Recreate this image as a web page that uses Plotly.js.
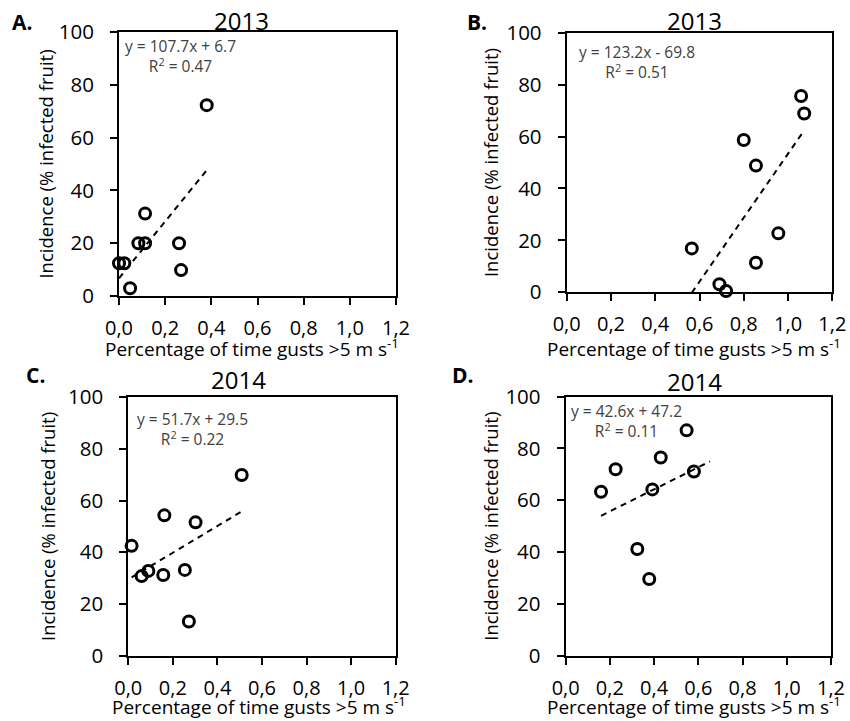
<!DOCTYPE html>
<html><head><meta charset="utf-8">
<script src="https://cdn.plot.ly/plotly-3.0.1.min.js"></script>
<style>html,body{margin:0;padding:0;background:#fff}</style>
</head><body><div id="chart" style="width:850px;height:721px"></div>
<script>
const panelLabels = ['A.', 'B.', 'C.', 'D.'];
const panelYears = ['2013', '2013', '2014', '2014'];
const xA = [0.000, 0.023, 0.048, 0.084, 0.113, 0.113, 0.260, 0.269, 0.380];
const yA = [12.4, 12.4, 2.9, 20.0, 20.0, 31.2, 20.0, 9.8, 72.3];
const xB = [0.565, 0.690, 0.720, 0.800, 0.855, 0.855, 0.956, 1.059, 1.073];
const yB = [16.9, 3.1, 0.5, 58.7, 48.8, 11.4, 22.7, 75.6, 68.9];
const xC = [0.015, 0.060, 0.090, 0.157, 0.162, 0.254, 0.272, 0.302, 0.509];
const yC = [42.5, 30.8, 32.8, 31.2, 54.3, 33.2, 13.2, 51.6, 69.9];
const xD = [0.160, 0.226, 0.324, 0.378, 0.392, 0.430, 0.547, 0.580];
const yD = [63.3, 72.0, 41.2, 29.6, 64.2, 76.5, 87.0, 71.1];
const slopes = [107.7, 123.2, 51.7, 42.6];
const intercepts = [6.7, -69.8, 29.5, 47.2];
const r2 = ['0.47', '0.51', '0.22', '0.11'];
const trendX = [[0.0, 0.38], [0.565, 1.073], [0.015, 0.509], [0.16, 0.653]];
const xTickVals = [0, 0.2, 0.4, 0.6, 0.8, 1.0, 1.2];
const yTickVals = [0, 20, 40, 60, 80, 100];
const xTitle = 'Percentage of time gusts >5 m s<sup>-1</sup>';
const yTitle = 'Incidence (% infected fruit)';

const xs = [xA, xB, xC, xD];
const ys = [yA, yB, yC, yD];

const FONT = 'Open Sans, sans-serif';
const W = 850, H = 721;
const xDomains = [[0.1400, 0.4659], [0.6667, 0.9792], [0.1509, 0.4655], [0.6655, 0.9776]];
const yDomains = [[0.5895, 0.9556], [0.5946, 0.9546], [0.0906, 0.4490], [0.0906, 0.4498]];
const yStandoff = [0, 3, 8, 2];
const eqPos = [[0.2129, 0.922], [0.7494, 0.9144], [0.2259, 0.4053], [0.7373, 0.4163]];
const yearPos = [[0.2847, 0.9709], [0.8176, 0.9709], [0.2800, 0.4730], [0.8176, 0.4706]];
const labelPos = [[0.0253, 0.9695], [0.5608, 0.9695], [0.0420, 0.4799], [0.5450, 0.4799]];
const xTitlePx = [[251.7, 347.5], [694, 347.5], [259, 705.5], [694, 705.5]];

const traces = [];
const layout = {
  width: W, height: H,
  margin: {l: 0, r: 0, t: 0, b: 0},
  paper_bgcolor: '#fff', plot_bgcolor: '#fff',
  showlegend: false,
  separators: ',.',
  font: {family: FONT, color: '#000'},
  annotations: []
};

for (let i = 0; i < 4; i++) {
  const s = i === 0 ? '' : String(i + 1);
  const xa = 'x' + s, ya = 'y' + s;
  const tx = trendX[i];
  traces.push({
    x: tx, y: tx.map(v => slopes[i] * v + intercepts[i]),
    xaxis: xa, yaxis: ya, mode: 'lines', type: 'scatter',
    line: {color: '#000', width: 2, dash: '6px,5px'}, hoverinfo: 'skip'
  });
  traces.push({
    x: xs[i], y: ys[i], xaxis: xa, yaxis: ya, mode: 'markers', type: 'scatter',
    cliponaxis: false,
    marker: {symbol: 'circle-open', size: 11, color: '#000', line: {width: 3, color: '#000'}}
  });
  layout['xaxis' + s] = {
    domain: xDomains[i], anchor: ya, range: [0, 1.2],
    tickvals: xTickVals, tickformat: '.1f',
    showline: true, linecolor: '#000', linewidth: 2, mirror: true,
    ticks: 'outside', ticklen: 7, tickwidth: 2, tickcolor: '#000',
    ticklabelstandoff: 6,
    showgrid: false, zeroline: false,
    tickfont: {family: FONT, size: 20, color: '#000'}
  };
  layout['yaxis' + s] = {
    domain: yDomains[i], anchor: xa, range: [0, 100],
    tickvals: yTickVals,
    showline: true, linecolor: '#000', linewidth: 2, mirror: true,
    ticks: 'outside', ticklen: 7, tickwidth: 2, tickcolor: '#000',
    ticklabelstandoff: 12,
    showgrid: false, zeroline: false,
    tickfont: {family: FONT, size: 20.5, color: '#000'},
    title: {text: yTitle, font: {family: FONT, size: 18.5, color: '#000'}, standoff: yStandoff[i]}
  };
  layout.annotations.push({
    xref: 'paper', yref: 'paper', x: xTitlePx[i][0] / W, y: 1 - xTitlePx[i][1] / H,
    xanchor: 'center', yanchor: 'middle', showarrow: false,
    text: xTitle, font: {family: FONT, size: 19, color: '#000'}
  });
  layout.annotations.push({
    xref: 'paper', yref: 'paper', x: eqPos[i][0], y: eqPos[i][1],
    xanchor: 'center', yanchor: 'middle', showarrow: false, align: 'center',
    text: 'y = ' + slopes[i] + 'x ' + (intercepts[i] < 0 ? '- ' : '+ ') + Math.abs(intercepts[i]) +
          '<br>R<sup>2</sup> = ' + r2[i],
    font: {family: FONT, size: 15.5, color: '#404040'}
  });
  layout.annotations.push({
    xref: 'paper', yref: 'paper', x: yearPos[i][0], y: yearPos[i][1],
    xanchor: 'center', yanchor: 'middle', showarrow: false,
    text: panelYears[i], font: {family: FONT, size: 24, color: '#000'}
  });
  layout.annotations.push({
    xref: 'paper', yref: 'paper', x: labelPos[i][0], y: labelPos[i][1],
    xanchor: 'center', yanchor: 'middle', showarrow: false,
    text: '<b>' + panelLabels[i] + '</b>', font: {family: FONT, size: 21, color: '#000'}
  });
}

Plotly.newPlot('chart', traces, layout, {displayModeBar: false, staticPlot: true});
</script>
</body></html>
